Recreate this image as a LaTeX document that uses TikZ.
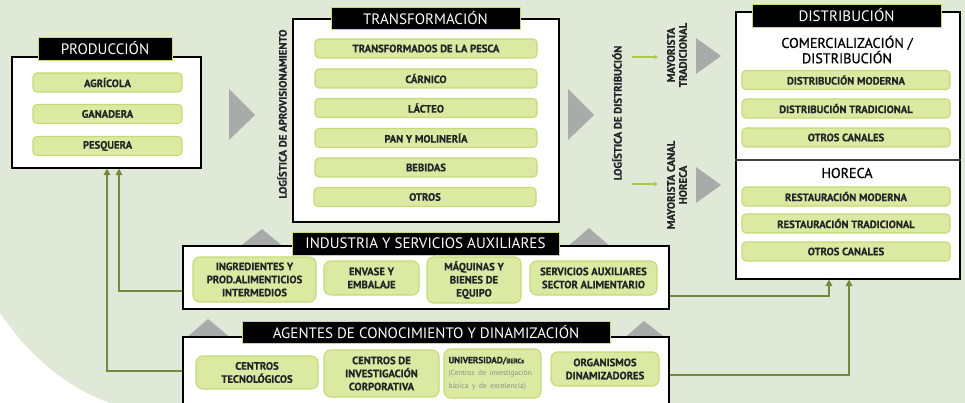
\documentclass[tikz,border=0pt]{standalone}
\usepackage{fontspec}
\setmainfont{PT Sans}[BoldFeatures={FakeBold=0.5}]
\newfontfamily\semibold[FakeBold=0.8]{PT Sans}
\usetikzlibrary{arrows.meta,positioning,calc}

\definecolor{bgsage}{HTML}{E0E8D7}
\definecolor{pillfill}{HTML}{DCE9A3}
\definecolor{pillline}{HTML}{C3DB74}
\definecolor{oliveline}{HTML}{75893A}
\definecolor{limeline}{HTML}{A9CB48}
\definecolor{trigray}{HTML}{A8ABAA}
\definecolor{inkdark}{HTML}{232426}
\definecolor{notegray}{HTML}{8E8E8E}

\begin{document}
\begin{tikzpicture}
[x=0.75pt,y=-0.75pt,
box/.style={rectangle,draw=black,fill=white,line width=0.8pt,inner sep=0pt},
header/.style={rectangle,draw=pillline,fill=black,text=white,line width=0.6pt,inner sep=0pt,font=\fontsize{11.3pt}{12pt}\selectfont},
pill/.style={rectangle,rounded corners=3pt,draw=pillline,fill=pillfill,line width=0.8pt,inner sep=0pt,align=center,text=inkdark,font=\fontsize{8pt}{9.8pt}\selectfont\bfseries},
sz/.style 2 args={minimum width=#1*0.75pt,minimum height=#2*0.75pt},
tag/.style={rotate=90,align=center,text=inkdark,inner sep=0pt,font=\fontsize{8.1pt}{9pt}\selectfont\bfseries},
link/.style={draw=oliveline,line width=1.1pt,-{Triangle[width=5pt,length=5pt]}},
feed/.style={draw=limeline,line width=0.9pt,-{Triangle[width=3pt,length=3pt]}},
chevron/.style={fill=trigray}]

% fondo
\useasboundingbox (0,0) rectangle (965,403);
\fill[bgsage] (0,0) rectangle (965,403);
\fill[white] (0,313) .. controls (25,350) and (60,385) .. (110,403) -- (0,403) -- cycle;

% flechas grises
\fill[chevron] (229,89) -- (255,115) -- (229,140) -- cycle;
\fill[chevron] (568,89) -- (594,115) -- (568,140) -- cycle;
\fill[chevron] (696,38) -- (721,56) -- (696,74) -- cycle;
\fill[chevron] (696,167) -- (721,185) -- (696,203) -- cycle;
\fill[chevron] (238,248) -- (262,229) -- (285,248) -- cycle;
\fill[chevron] (566,248) -- (589,228) -- (612,248) -- cycle;
\fill[chevron] (185,339) -- (208,319) -- (232,339) -- cycle;
\fill[chevron] (623,339) -- (644,321) -- (667,339) -- cycle;

% produccion
\node[box,sz={189}{111}] (produccion) at (106.5,112.5) {};
\node[header,sz={134}{23}] (produccion title) at (105,48.5) {PRODUCCIÓN};
\node[pill,sz={149}{19}] (agricola) at (107.5,82.5) {AGRÍCOLA};
\node[pill,sz={149}{19}] (ganadera) at (107.5,114) {GANADERA};
\node[pill,sz={149}{19}] (pesquera) at (107.5,146) {PESQUERA};

% transformacion
\node[tag] (log aprov) at (282,114) {LOGÍSTICA DE APROVISIONAMIENTO};
\node[box,sz={266}{203}] (transformacion) at (426,120.5) {};
\node[header,sz={189}{22}] (transformacion title) at (425.5,18) {TRANSFORMACIÓN};
\node[pill,sz={222}{19}] (pesca) at (426,48.5) {TRANSFORMADOS DE LA PESCA};
\node[pill,sz={222}{19}] (carnico) at (426,78.5) {CÁRNICO};
\node[pill,sz={222}{19}] (lacteo) at (426,108) {LÁCTEO};
\node[pill,sz={222}{19}] (pan) at (426,138) {PAN Y MOLINERÍA};
\node[pill,sz={222}{19}] (bebidas) at (426,167.5) {BEBIDAS};
\node[pill,sz={222}{19}] (otros) at (425,197) {OTROS};

% mayoristas
\node[tag] (log dist) at (617,113) {LOGÍSTICA DE DISTRIBUCIÓN};
\node[tag] (may trad) at (677,55) {MAYORISTA\\TRADICIONAL};
\node[tag] (may horeca) at (677,185) {MAYORISTA CANAL\\HORECA};
\coordinate (feed 1 start) at (632,57);
\coordinate (feed 1 end) at (658,57);
\coordinate (feed 2 start) at (632,184);
\coordinate (feed 2 end) at (658,184);
\draw[feed] (feed 1 start) -- (feed 1 end);
\draw[feed] (feed 2 start) -- (feed 2 end);

% distribucion
\node[box,sz={224}{267}] (distribucion) at (848,145.5) {};
\node[header,sz={189}{23}] (distribucion title) at (846.5,15.5) {DISTRIBUCIÓN};
\node[align=center,inner sep=0pt,font=\fontsize{10.6pt}{11.5pt}\semibold] (comercializacion) at (847,49.5) {COMERCIALIZACIÓN /\\DISTRIBUCIÓN};
\node[pill,sz={208}{19}] (dist moderna) at (846,80) {DISTRIBUCIÓN MODERNA};
\node[pill,sz={208}{19}] (dist tradicional) at (846,108.5) {DISTRIBUCIÓN TRADICIONAL};
\node[pill,sz={208}{19}] (otros canales 1) at (846,137.5) {OTROS CANALES};
\draw[black!75,line width=0.8pt] (distribucion.west |- 0,160) -- (distribucion.east |- 0,160);
\node[inner sep=0pt,font=\fontsize{10.6pt}{11.5pt}\semibold] (horeca) at (847,173) {HORECA};
\node[pill,sz={208}{19}] (rest moderna) at (846,196.5) {RESTAURACIÓN MODERNA};
\node[pill,sz={208}{19}] (rest tradicional) at (846,223.5) {RESTAURACIÓN TRADICIONAL};
\node[pill,sz={208}{19}] (otros canales 2) at (846,251.5) {OTROS CANALES};

% industria
\node[box,sz={486}{63}] (industria) at (426,277.5) {};
\node[header,sz={267}{23}] (industria title) at (425.5,243.5) {INDUSTRIA Y SERVICIOS AUXILIARES};
\node[pill,sz={123}{45},rounded corners=5pt] (ingredientes) at (254.5,279.5) {INGREDIENTES Y\\PROD.ALIMENTICIOS\\INTERMEDIOS};
\node[pill,sz={95}{34},rounded corners=5pt] (envase) at (371.5,278) {ENVASE Y\\EMBALAJE};
\node[pill,sz={94}{46},rounded corners=5pt] (maquinas) at (474,280) {MÁQUINAS Y\\BIENES DE\\EQUIPO};
\node[pill,sz={127}{34},rounded corners=5pt] (servicios) at (593.5,278) {SERVICIOS AUXILIARES\\SECTOR ALIMENTARIO};

% agentes
\node[box,sz={486}{90}] (agentes) at (426,382) {};
\node[header,sz={368}{22}] (agentes title) at (426,332) {AGENTES DE CONOCIMIENTO Y DINAMIZACIÓN};
\node[pill,sz={122}{33},rounded corners=5pt] (centros tec) at (257,372.5) {CENTROS\\TECNOLÓGICOS};
\node[pill,sz={115}{47},rounded corners=5pt] (centros inv) at (381.5,373.5) {CENTROS DE\\INVESTIGACIÓN\\CORPORATIVA};
\node[pill,sz={97}{49},rounded corners=5pt,align=left,text width=66pt] (universidad) at (492.5,373.5)
  {{\fontsize{6.8pt}{8pt}\selectfont UNIVERSIDAD/\fontsize{5pt}{6pt}\selectfont BERCs}\\[1pt]
   {\mdseries\color{notegray}\fontsize{5.6pt}{8.2pt}\selectfont (Centros de investigación\\básica y de excelencia)}};
\node[pill,sz={108}{34},rounded corners=5pt] (organismos) at (605,369) {ORGANISMOS\\DINAMIZADORES};

% conexiones
\draw[link] (industria.west |- 0,291) -| (119,0 |- produccion.south);
\draw[link] (agentes.west |- 0,371) -| (107,0 |- produccion.south);
\draw[link] (industria.east |- 0,296) -| (829,0 |- distribucion.south);
\draw[link] (agentes.east |- 0,375) -| (849,0 |- distribucion.south);
\end{tikzpicture}
\end{document}
